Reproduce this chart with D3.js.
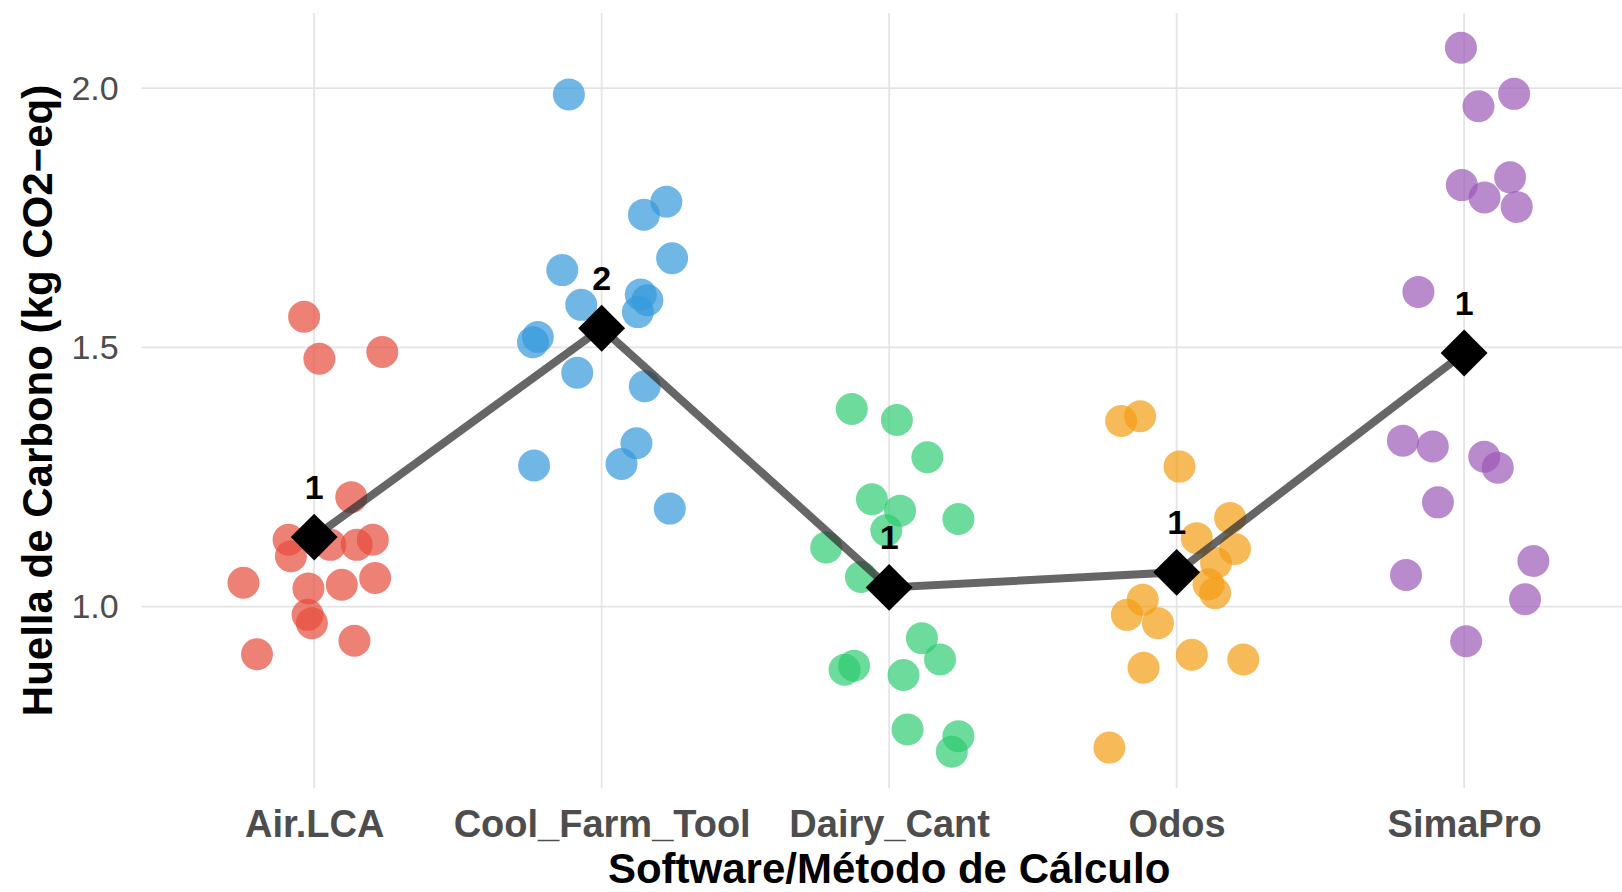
<!DOCTYPE html>
<html>
<head>
<meta charset="utf-8">
<script src="https://cdn.jsdelivr.net/npm/d3@7"></script>
<style>
  body { margin: 0; background: #fff; }
  svg { display: block; font-family: "Liberation Sans", Arial, sans-serif; }
</style>
</head>
<body>
<div id="container"></div>
<script>
// data
var categories = ["Air.LCA", "Cool_Farm_Tool", "Dairy_Cant", "Odos", "SimaPro"];

var airValues = [1.559, 1.478, 1.491, 1.211, 1.129, 1.097, 1.119, 1.119, 1.129, 1.046, 1.035, 1.042, 1.055, 0.984, 0.968, 0.934, 0.908];
var airJitter = [-0.035, 0.018, 0.237, 0.129, -0.089, -0.081, 0.056, 0.148, 0.204, -0.246, -0.020, 0.096, 0.212, -0.023, -0.008, 0.140, -0.199];

var coolValues = [1.988, 1.781, 1.756, 1.672, 1.649, 1.582, 1.602, 1.591, 1.568, 1.520, 1.510, 1.451, 1.425, 1.315, 1.275, 1.272, 1.189];
var coolJitter = [-0.114, 0.225, 0.147, 0.245, -0.137, -0.071, 0.136, 0.159, 0.126, -0.222, -0.239, -0.085, 0.150, 0.121, 0.069, -0.235, 0.237];

var dairyValues = [1.381, 1.360, 1.288, 1.207, 1.185, 1.147, 1.169, 1.114, 1.057, 0.939, 0.898, 0.878, 0.886, 0.868, 0.763, 0.750, 0.720];
var dairyJitter = [-0.130, 0.027, 0.133, -0.060, 0.038, -0.010, 0.241, -0.219, -0.098, 0.114, 0.177, -0.155, -0.122, 0.050, 0.064, 0.241, 0.218];

var odosValues = [1.358, 1.367, 1.270, 1.171, 1.132, 1.111, 1.084, 1.043, 1.026, 1.013, 0.984, 0.968, 0.907, 0.898, 0.882, 0.728];
var odosJitter = [-0.193, -0.127, 0.010, 0.186, 0.070, 0.203, 0.137, 0.111, 0.134, -0.118, -0.173, -0.065, 0.053, 0.232, -0.115, -0.234];

var simaValues = [2.078, 1.989, 1.965, 1.828, 1.813, 1.789, 1.771, 1.607, 1.320, 1.309, 1.289, 1.268, 1.201, 1.061, 1.088, 1.014, 0.933];
var simaJitter = [-0.011, 0.174, 0.050, 0.160, -0.008, 0.071, 0.183, -0.159, -0.213, -0.109, 0.070, 0.117, -0.091, -0.202, 0.241, 0.212, 0.007];

var meanValues = [1.134, 1.537, 1.037, 1.066, 1.489];
var meanLabels = ["1", "2", "1", "1", "1"];

var yTicks = [1.0, 1.5, 2.0];

var colors = ["#E74C3C", "#3498DB", "#2ECC71", "#F39C12", "#9B59B6"];

var w = 1622;
var h = 892;
var panelLeft = 141.7;
var panelRight = 1636.6;
var panelTop = 13;
var panelBottom = 788;

var svg = d3
  .select("#container")
  .append("svg")
  .attr("width", w)
  .attr("height", h);

svg.append("rect").attr("width", w).attr("height", h).attr("fill", "#fff");

var xScale = d3.scalePoint().domain(categories).range([panelLeft, panelRight]).padding(0.6);
var step = xScale.step();
var yScale = d3.scaleLinear().domain([0.65, 2.145]).range([panelBottom, panelTop]);

// grid lines
svg
  .append("g")
  .selectAll("line")
  .data(yTicks)
  .enter()
  .append("line")
  .attr("x1", panelLeft)
  .attr("x2", w)
  .attr("y1", (d) => yScale(d))
  .attr("y2", (d) => yScale(d))
  .attr("stroke", "#e4e4e4")
  .attr("stroke-width", 1.8);

svg
  .append("g")
  .selectAll("line")
  .data(categories)
  .enter()
  .append("line")
  .attr("x1", (d) => xScale(d))
  .attr("x2", (d) => xScale(d))
  .attr("y1", panelTop)
  .attr("y2", panelBottom)
  .attr("stroke", "#e4e4e4")
  .attr("stroke-width", 1.8);

// points
var groups = [
  [airValues, airJitter],
  [coolValues, coolJitter],
  [dairyValues, dairyJitter],
  [odosValues, odosJitter],
  [simaValues, simaJitter]
];

var points = [];
groups.forEach((g, i) => {
  g[0].forEach((v, j) => {
    points.push({ cat: categories[i], value: v, jitter: g[1][j], color: colors[i] });
  });
});

svg
  .append("g")
  .selectAll("circle")
  .data(points)
  .enter()
  .append("circle")
  .attr("cx", (d) => xScale(d.cat) + d.jitter * step)
  .attr("cy", (d) => yScale(d.value))
  .attr("r", 16)
  .attr("fill", (d) => d.color)
  .attr("fill-opacity", 0.7);

// mean line
var means = categories.map((c, i) => ({ cat: c, value: meanValues[i], label: meanLabels[i] }));

var line = d3
  .line()
  .x((d) => xScale(d.cat))
  .y((d) => yScale(d.value));

svg
  .append("path")
  .datum(means)
  .attr("d", line)
  .attr("fill", "none")
  .attr("stroke", "#333")
  .attr("stroke-opacity", 0.75)
  .attr("stroke-width", 8);

svg
  .append("g")
  .selectAll("path")
  .data(means)
  .enter()
  .append("path")
  .attr("d", d3.symbol().type(d3.symbolSquare).size(1100))
  .attr("transform", (d) => "translate(" + xScale(d.cat) + "," + yScale(d.value) + ") rotate(45)")
  .attr("fill", "#000");

svg
  .append("g")
  .selectAll("text")
  .data(means)
  .enter()
  .append("text")
  .attr("x", (d) => xScale(d.cat))
  .attr("y", (d) => yScale(d.value) - 38)
  .attr("text-anchor", "middle")
  .attr("font-size", 34)
  .attr("font-weight", "bold")
  .attr("fill", "#000")
  .text((d) => d.label);

// axes
var yAxis = d3.axisLeft(yScale).tickValues(yTicks).tickFormat(d3.format(".1f")).tickSize(0).tickPadding(23);
var gy = svg.append("g").attr("transform", "translate(" + panelLeft + ",0)").call(yAxis);
gy.select(".domain").remove();
gy.selectAll("text")
  .attr("font-size", 34)
  .attr("font-family", "Liberation Sans, Arial, sans-serif")
  .attr("fill", "#4d4d4d");

var xAxis = d3.axisBottom(xScale).tickSize(0).tickPadding(22);
var gx = svg.append("g").attr("transform", "translate(0," + panelBottom + ")").call(xAxis);
gx.select(".domain").remove();
gx.selectAll("text")
  .attr("font-size", 38)
  .attr("font-weight", "bold")
  .attr("font-family", "Liberation Sans, Arial, sans-serif")
  .attr("fill", "#4d4d4d");

// titles
svg
  .append("text")
  .attr("x", (panelLeft + panelRight) / 2)
  .attr("y", 883)
  .attr("text-anchor", "middle")
  .attr("font-size", 42)
  .attr("font-weight", "bold")
  .attr("fill", "#000")
  .text("Software/Método de Cálculo");

svg
  .append("text")
  .attr("transform", "translate(52," + (panelTop + panelBottom) / 2 + ") rotate(-90)")
  .attr("text-anchor", "middle")
  .attr("font-size", 42)
  .attr("font-weight", "bold")
  .attr("fill", "#000")
  .text("Huella de Carbono (kg CO2\u2212eq)");
</script>
</body>
</html>
